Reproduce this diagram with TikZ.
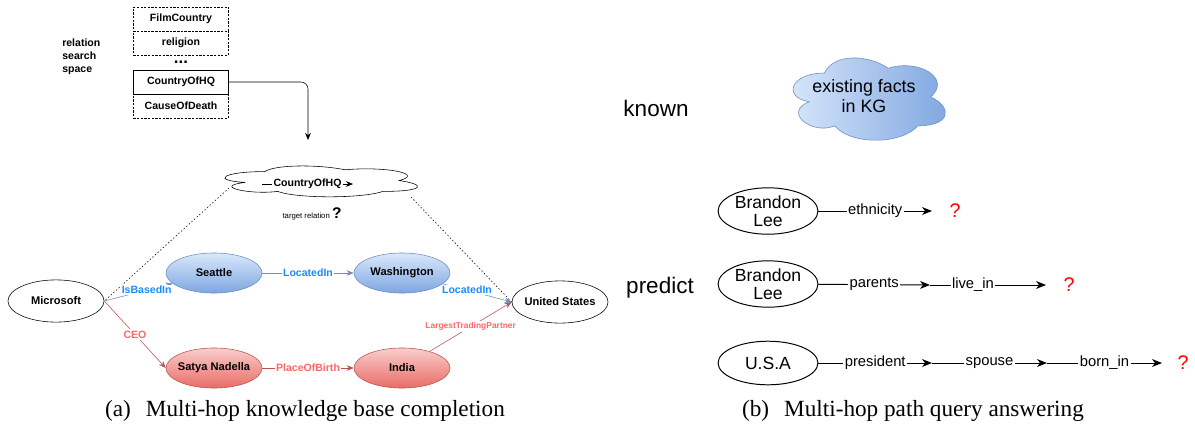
\documentclass[tikz,border=0pt]{standalone}
\usepackage{fontspec}
\setmainfont{Liberation Serif}
\setsansfont{Liberation Sans}
\usetikzlibrary{shapes.geometric,arrows.meta}

\definecolor{blueline}{HTML}{6C8EBF}
\definecolor{bluetop}{HTML}{DAE8FC}
\definecolor{bluebot}{HTML}{7EA6E0}
\definecolor{bluetext}{HTML}{1A8CFF}
\definecolor{redline}{HTML}{B85450}
\definecolor{redtop}{HTML}{F8CECC}
\definecolor{redbot}{HTML}{EA6B66}
\definecolor{redtext}{HTML}{FF6666}

\begin{document}
\begin{tikzpicture}[
        x=0.025cm, y=-0.025cm,
        relbox/.style={draw, minimum width=67.6pt, minimum height=17pt, inner sep=0pt,
            font=\sffamily\bfseries\fontsize{7.5}{9}\selectfont},
        dashbox/.style={relbox, dash pattern=on 1.6pt off 1pt},
        ent/.style={ellipse, draw, minimum width=68.3pt, minimum height=28.5pt, inner sep=0pt,
            label={[font=\sffamily\bfseries\fontsize{7.9}{9}\selectfont]center:#1}},
        blueent/.style={ent=#1, draw=blueline, top color=bluetop, bottom color=bluebot},
        redent/.style={ent=#1, draw=redline, top color=redtop, bottom color=redbot},
        bluerel/.style={draw=blueline, -{Stealth[length=5pt,width=4pt]}},
        redrel/.style={draw=redline, -{Stealth[length=5pt,width=4pt]}},
        bluelab/.style={fill=white, inner sep=1pt, text=bluetext,
            font=\sffamily\bfseries\fontsize{7.5}{8}\selectfont},
        redlab/.style={fill=white, inner sep=1pt, text=redtext,
            font=\sffamily\bfseries\fontsize{7.5}{8}\selectfont},
        pent/.style={ellipse, draw, line width=0.7pt, minimum width=71pt, minimum height=33pt, inner sep=0pt,
            label={[align=center, font=\sffamily\fontsize{12.5}{13}\selectfont]center:#1}},
        hop/.style={line width=0.7pt, -{Stealth[length=7pt,width=5.5pt,inset=2pt]}},
        hoplab/.style={fill=white, inner sep=1pt, font=\sffamily\fontsize{10.5}{12}\selectfont},
        unknown/.style={text=red, font=\sffamily\fontsize{14}{16}\selectfont},
        rowlab/.style={font=\sffamily\fontsize{16}{18}\selectfont},
        capt/.style={font=\fontsize{16.5}{19}\selectfont},
        cloudfit/.style n args={4}{shift={(#1,#2)}, xscale=#3, yscale=#4}]

        \useasboundingbox (0,0) rectangle (1195,436);

        % (a) relation search space
        \node[anchor=west, align=left, inner sep=0pt,
            font=\sffamily\bfseries\fontsize{7.5}{9.3}\selectfont] (relspace) at (62,57) {relation\\search\\space};
        \node[dashbox] (filmcountry) at (181,19) {FilmCountry};
        \node[dashbox] (religion) at (181,43) {religion};
        \node[font=\sffamily\bfseries\fontsize{12}{12}\selectfont, inner sep=0pt] (dots) at (181,62) {...};
        \node[relbox, line width=0.6pt] (countryhq) at (181,82) {CountryOfHQ};
        \node[dashbox] (causedeath) at (181,106) {CauseOfDeath};
        \coordinate (hqturn) at (308,140);
        \draw[-{Stealth[length=5pt,width=4pt]}, rounded corners=5pt] (countryhq) -| (hqturn);

        % target relation cloud
        \draw[cloudfit={211}{162.6}{215}{36}, fill=white]
            (0.25,0.25) .. controls (0.05,0.25) and (0,0.5) .. (0.16,0.55)
            .. controls (0,0.66) and (0.18,0.9) .. (0.31,0.8)
            .. controls (0.4,1) and (0.7,1) .. (0.8,0.8)
            .. controls (1,0.8) and (1,0.6) .. (0.875,0.5)
            .. controls (1,0.3) and (0.8,0.1) .. (0.625,0.2)
            .. controls (0.5,0.05) and (0.3,0.05) .. (0.25,0.25) -- cycle;
        \node[inner sep=0pt] (cloudA) at (318,181) {};
        \coordinate (cloudW) at (229,188);
        \coordinate (cloudE) at (411,197);
        \coordinate (hqL) at (262,184);
        \coordinate (hqR) at (353,184);
        \draw[-{Stealth[length=5pt,width=4pt]}] (hqL) -- (hqR)
            node[midway, fill=white, inner sep=1pt, font=\sffamily\bfseries\fontsize{7.5}{9}\selectfont]{CountryOfHQ};
        \node[font=\sffamily\fontsize{5.5}{7}\selectfont, inner sep=0pt] (target) at (312,214)
            {target relation \raisebox{-0.5pt}{\bfseries\fontsize{11}{12}\selectfont ?}};

        % (a) knowledge graph
        \node[ent=Microsoft, minimum height=30pt] (microsoft) at (56,301) {};
        \node[blueent=Seattle] (seattle) at (214,273) {};
        \node[blueent=Washington] (washington) at (402,273) {};
        \node[ent={United States}, minimum height=30pt] (us) at (560,302) {};
        \node[redent={Satya Nadella}] (satya) at (214,368) {};
        \node[redent=India] (india) at (402,368) {};

        \draw[dash pattern=on 1pt off 1.5pt] (cloudW) -- (microsoft.east);
        \draw[dash pattern=on 1pt off 1.5pt] (cloudE) -- (us.west);

        \draw[bluerel] (microsoft.east) -- (seattle) node[bluelab, pos=0.62]{IsBasedIn};
        \draw[bluerel] (seattle) -- (washington) node[bluelab, midway]{LocatedIn};
        \draw[bluerel] (washington) -- (us.west) node[bluelab, pos=0.35]{LocatedIn};
        \draw[redrel] (microsoft.east) -- (satya.west) node[redlab, midway]{CEO};
        \draw[redrel] (satya) -- (india) node[redlab, midway]{PlaceOfBirth};
        \draw[redrel] (india) -- (us.west) node[redlab, midway, font=\sffamily\bfseries\fontsize{6}{7}\selectfont]{LargestTradingPartner};

        % (b) path queries
        \node[rowlab] (known) at (656,108) {known};
        \node[rowlab] (predict) at (660,288) {predict};
        \draw[cloudfit={782}{49}{170}{96}, draw=blueline, left color=bluetop, right color=bluebot]
            (0.25,0.25) .. controls (0.05,0.25) and (0,0.5) .. (0.16,0.55)
            .. controls (0,0.66) and (0.18,0.9) .. (0.31,0.8)
            .. controls (0.4,1) and (0.7,1) .. (0.8,0.8)
            .. controls (1,0.8) and (1,0.6) .. (0.875,0.5)
            .. controls (1,0.3) and (0.8,0.1) .. (0.625,0.2)
            .. controls (0.5,0.05) and (0.3,0.05) .. (0.25,0.25) -- cycle;
        \node[align=center, font=\sffamily\fontsize{12.7}{14}\selectfont] (kgcloud) at (864,96) {existing facts\\in KG};

        \node[pent={Brandon\\Lee}] (leeA) at (768,211) {};
        \coordinate (ethend) at (932,211);
        \node[unknown] (qA) at (955,211) {?};
        \draw[hop] (leeA) -- (ethend) node[hoplab, midway]{ethnicity};

        \node[pent={Brandon\\Lee}] (leeB) at (768,284) {};
        \coordinate (parend) at (930,285);
        \coordinate (liveend) at (1046,285);
        \node[unknown] (qB) at (1069,285) {?};
        \draw[hop] (leeB) -- (parend) node[hoplab, midway]{parents};
        \draw[hop] (parend) -- (liveend) node[hoplab, pos=0.37]{live\_in};

        \node[pent={U.S.A}, minimum height=31pt] (usa) at (768,363) {};
        \coordinate (presend) at (932,363);
        \coordinate (spouseend) at (1047,363);
        \coordinate (bornend) at (1162,363);
        \node[unknown] (qC) at (1183,363) {?};
        \draw[hop] (usa) -- (presend) node[hoplab, midway]{president};
        \draw[hop] (presend) -- (spouseend) node[hoplab, midway]{spouse};
        \draw[hop] (spouseend) -- (bornend) node[hoplab, midway]{born\_in};

        % captions
        \node[capt] (capA) at (305,411) {(a)\hspace{0.4em} Multi-hop knowledge base completion};
        \node[capt] (capB) at (913,411) {(b)\hspace{0.4em} Multi-hop path query answering};
    \end{tikzpicture}
\end{document}
